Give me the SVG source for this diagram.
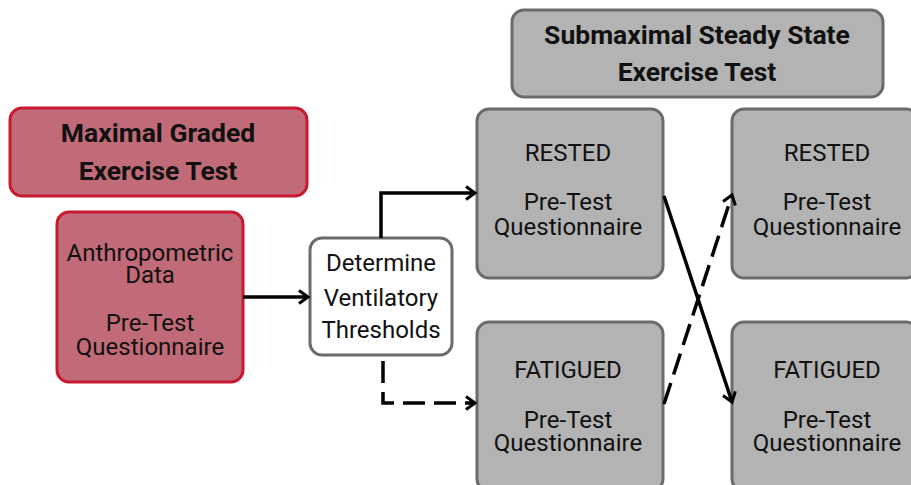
<svg xmlns="http://www.w3.org/2000/svg" width="911" height="485" viewBox="0 0 911 485">
<style>
.red{fill:#c26b78;stroke:#c8192f;stroke-width:3}
.gray{fill:#b3b3b3;stroke:#6b6b6b;stroke-width:3}
.white{fill:#ffffff;stroke:#6b6b6b;stroke-width:3}
.t{font-family:Roboto,"Liberation Sans",sans-serif;font-size:24px;fill:#111;text-anchor:middle}
.b{font-family:Roboto,"Liberation Sans",sans-serif;font-size:26.5px;font-weight:bold;fill:#111;text-anchor:middle}
.c{fill:none;stroke:#000;stroke-width:3.5}
.d{stroke-dasharray:22 9}
</style>
<defs>
<marker id="ah" viewBox="0 0 16 16" refX="13" refY="8" markerWidth="16" markerHeight="16" markerUnits="userSpaceOnUse" orient="auto">
<path d="M4,1.5 L13,8 L4,14.5" fill="none" stroke="#000" stroke-width="3"/>
</marker>
</defs>
<g id="maximal">
<rect class="red" x="10" y="108" width="297" height="88" rx="12"/>
<text class="b" x="158" y="142">Maximal Graded</text>
<text class="b" x="158" y="180">Exercise Test</text>
</g>
<g id="anthro">
<rect class="red" x="57" y="212" width="186" height="170" rx="12"/>
<text class="t" x="150" y="261">Anthropometric</text>
<text class="t" x="150" y="283">Data</text>
<text class="t" x="150" y="331">Pre-Test</text>
<text class="t" x="150" y="355">Questionnaire</text>
</g>
<g id="determine">
<rect class="white" x="310" y="238" width="142" height="117" rx="12"/>
<text class="t" x="381" y="271">Determine</text>
<text class="t" x="381" y="306">Ventilatory</text>
<text class="t" x="381" y="338">Thresholds</text>
</g>
<g id="submax">
<rect class="gray" x="512" y="10" width="371" height="87" rx="12"/>
<text class="b" x="697" y="44">Submaximal Steady State</text>
<text class="b" x="697" y="81">Exercise Test</text>
</g>
<g id="rested1">
<rect class="gray" x="477" y="109" width="186" height="169" rx="12"/>
<text class="t" x="568" y="161">RESTED</text>
<text class="t" x="568" y="210">Pre-Test</text>
<text class="t" x="568" y="235">Questionnaire</text>
</g>
<g id="rested2">
<rect class="gray" x="732" y="109" width="186" height="169" rx="12"/>
<text class="t" x="827" y="161">RESTED</text>
<text class="t" x="827" y="210">Pre-Test</text>
<text class="t" x="827" y="235">Questionnaire</text>
</g>
<g id="fatigued1">
<rect class="gray" x="477" y="322" width="186" height="169" rx="12"/>
<text class="t" x="568" y="378">FATIGUED</text>
<text class="t" x="568" y="428">Pre-Test</text>
<text class="t" x="568" y="451">Questionnaire</text>
</g>
<g id="fatigued2">
<rect class="gray" x="732" y="322" width="186" height="169" rx="12"/>
<text class="t" x="827" y="378">FATIGUED</text>
<text class="t" x="827" y="428">Pre-Test</text>
<text class="t" x="827" y="451">Questionnaire</text>
</g>
<g id="connectors">
<path class="c" d="M243,297 L308,297" marker-end="url(#ah)"/>
<path class="c" d="M381,238 L381,193 L475,193" marker-end="url(#ah)"/>
<path class="c d" d="M383,361 L383,403 L475,403" marker-end="url(#ah)" stroke-dasharray="20 9"/>
<path class="c" d="M664,196 L732,402" marker-end="url(#ah)"/>
<path class="c d" d="M664,404 L732,195" marker-end="url(#ah)"/>
</g>
</svg>
